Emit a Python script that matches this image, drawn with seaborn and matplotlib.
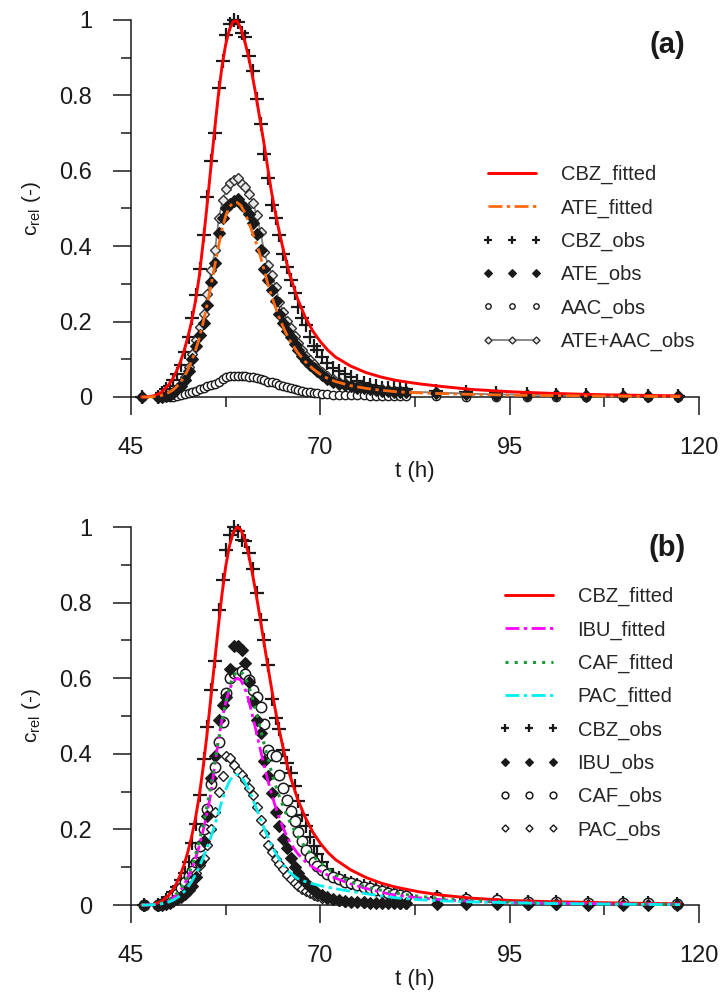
import matplotlib
matplotlib.use("Agg")
import matplotlib.pyplot as plt
import seaborn as sns

# ---------------- data : panel (a) ----------------
t_obs_a = [46.4, 48.6, 49.1, 49.6, 50.1, 50.6, 51.1, 51.6, 52.1, 52.6,
           53.1, 53.6, 54.1, 54.6, 55.1, 55.6, 56.1, 56.6, 57.1, 57.6,
           58.1, 58.6, 59.1, 59.6, 60.1, 60.6, 61.1, 61.6, 62.1, 62.6,
           63.1, 63.6, 64.1, 64.6, 65.1, 65.6, 66.1, 66.6, 67.1, 67.6,
           68.1, 68.6, 69.1, 69.6, 70.2, 70.9, 71.7, 72.5, 73.3, 74.1,
           74.9, 75.7, 76.5, 77.3, 78.1, 78.9, 79.7, 80.5, 81.3, 85.3,
           89.2, 93.2, 97.3, 101.1, 105.1, 110.0, 113.3, 117.2]
cbz_obs_a = [0.0, 0.0, 0.01, 0.02, 0.03, 0.045, 0.06, 0.085, 0.12, 0.16,
             0.21, 0.27, 0.34, 0.43, 0.53, 0.625, 0.70, 0.82, 0.89, 0.96,
             0.99, 1.0, 0.995, 0.965, 0.955, 0.905, 0.865, 0.79, 0.725, 0.645,
             0.58, 0.51, 0.475, 0.43, 0.38, 0.345, 0.31, 0.275, 0.24, 0.21,
             0.19, 0.16, 0.135, 0.125, 0.107, 0.09, 0.076, 0.068, 0.062, 0.052,
             0.043, 0.037, 0.031, 0.028, 0.025, 0.024, 0.023, 0.023, 0.022, 0.016,
             0.013, 0.01, 0.008, 0.006, 0.005, 0.004, 0.003, 0.002]
ate_obs_a = [0.0, 0.0, 0.0, 0.002, 0.005, 0.01, 0.02, 0.03, 0.045, 0.07,
             0.1, 0.135, 0.165, 0.195, 0.245, 0.305, 0.355, 0.435, 0.475, 0.5,
             0.512, 0.52, 0.524, 0.508, 0.502, 0.485, 0.462, 0.432, 0.39, 0.34,
             0.31, 0.285, 0.255, 0.22, 0.195, 0.175, 0.16, 0.14, 0.125, 0.108,
             0.096, 0.085, 0.076, 0.068, 0.058, 0.048, 0.041, 0.035, 0.031, 0.028,
             0.025, 0.023, 0.021, 0.019, 0.017, 0.015, 0.014, 0.013, 0.012, 0.01,
             0.008, 0.006, 0.005, 0.004, 0.003, 0.003, 0.002, 0.002]
aac_obs_a = [0.0, 0.0, 0.0, 0.0, 0.0, 0.001, 0.002, 0.004, 0.007, 0.01,
             0.013, 0.017, 0.02, 0.024, 0.028, 0.031, 0.035, 0.04, 0.047, 0.052,
             0.055, 0.056, 0.056, 0.056, 0.055, 0.054, 0.052, 0.05, 0.047, 0.044,
             0.041, 0.039, 0.036, 0.033, 0.03, 0.027, 0.024, 0.022, 0.019, 0.017,
             0.014, 0.012, 0.011, 0.01, 0.008, 0.007, 0.006, 0.005, 0.005, 0.004,
             0.004, 0.004, 0.003, 0.003, 0.003, 0.003, 0.003, 0.002, 0.002, 0.002,
             0.001, 0.001, 0.001, 0.001, 0.001, 0.0, 0.0, 0.0]
ate_aac_obs_a = [0.0, 0.0, 0.0, 0.002, 0.005, 0.011, 0.022, 0.034, 0.052, 0.08,
                 0.113, 0.152, 0.185, 0.219, 0.273, 0.336, 0.39, 0.475, 0.522, 0.552,
                 0.567, 0.576, 0.58, 0.564, 0.557, 0.539, 0.514, 0.482, 0.437, 0.384,
                 0.351, 0.324, 0.291, 0.253, 0.225, 0.202, 0.184, 0.162, 0.144, 0.125,
                 0.11, 0.097, 0.087, 0.078, 0.066, 0.055, 0.047, 0.04, 0.036, 0.032,
                 0.029, 0.027, 0.024, 0.022, 0.02, 0.018, 0.017, 0.015, 0.014, 0.012,
                 0.009, 0.007, 0.006, 0.005, 0.004, 0.003, 0.002, 0.002]

t_fit = [46.4, 47.0, 48.0, 49.0, 50.0, 50.5, 51.0, 51.5, 52.0, 52.5,
         53.0, 53.5, 54.0, 54.5, 55.0, 55.5, 56.0, 56.5, 57.0, 57.5,
         58.0, 58.5, 59.0, 59.5, 60.0, 60.5, 61.0, 61.5, 62.0, 62.5,
         63.0, 63.5, 64.0, 64.5, 65.0, 65.5, 66.0, 67.0, 68.0, 69.0,
         70.0, 71.0, 72.0, 74.0, 76.0, 78.0, 80.0, 83.0, 86.0, 90.0,
         95.0, 100.0, 105.0, 110.0, 117.5]
cbz_fit_a = [0.0, 0.0, 0.003, 0.012, 0.033, 0.048, 0.068, 0.092, 0.122, 0.158,
             0.2, 0.253, 0.318, 0.405, 0.5, 0.6, 0.7, 0.795, 0.875, 0.935,
             0.975, 0.996, 0.998, 0.978, 0.945, 0.905, 0.855, 0.80, 0.74, 0.68,
             0.615, 0.55, 0.495, 0.445, 0.40, 0.36, 0.322, 0.26, 0.212, 0.175,
             0.147, 0.124, 0.106, 0.082, 0.065, 0.053, 0.044, 0.035, 0.028, 0.02,
             0.014, 0.01, 0.007, 0.005, 0.003]
ate_fit_a = [0.0, 0.0, 0.001, 0.004, 0.012, 0.018, 0.027, 0.038, 0.053, 0.072,
             0.095, 0.123, 0.155, 0.195, 0.24, 0.29, 0.342, 0.395, 0.443, 0.48,
             0.505, 0.515, 0.516, 0.508, 0.49, 0.466, 0.438, 0.41, 0.38, 0.342,
             0.305, 0.272, 0.242, 0.214, 0.19, 0.168, 0.149, 0.118, 0.094, 0.075,
             0.06, 0.049, 0.041, 0.03, 0.023, 0.018, 0.014, 0.011, 0.009, 0.007,
             0.005, 0.004, 0.003, 0.002, 0.001]

# ---------------- data : panel (b) ----------------
t_obs_b = [46.7, 48.6, 49.1, 49.6, 50.1, 50.6, 51.1, 51.6, 52.1, 52.6,
           53.1, 53.6, 54.1, 54.6, 55.1, 55.6, 56.1, 56.6, 57.1, 57.6,
           58.1, 58.6, 59.1, 59.6, 60.1, 60.6, 61.1, 61.6, 62.1, 62.6,
           63.1, 63.6, 64.1, 64.6, 65.1, 65.6, 66.1, 66.6, 67.1, 67.6,
           68.1, 68.6, 69.1, 69.6, 70.2, 70.9, 71.7, 72.5, 73.3, 74.1,
           74.9, 75.7, 76.5, 77.3, 78.1, 78.9, 79.7, 80.5, 81.3, 85.4,
           89.3, 93.3, 97.4, 101.1, 105.3, 109.9, 113.2, 117.1]
cbz_obs_b = [0.0, 0.0, 0.005, 0.012, 0.022, 0.035, 0.048, 0.065, 0.085, 0.115,
             0.165, 0.215, 0.29, 0.385, 0.47, 0.57, 0.645, 0.78, 0.86, 0.94,
             0.979, 1.0, 0.99, 0.965, 0.962, 0.93, 0.89, 0.825, 0.755, 0.70,
             0.635, 0.545, 0.495, 0.465, 0.41, 0.375, 0.35, 0.315, 0.275, 0.238,
             0.21, 0.18, 0.155, 0.135, 0.115, 0.095, 0.079, 0.071, 0.064, 0.059,
             0.054, 0.05, 0.046, 0.042, 0.038, 0.034, 0.031, 0.028, 0.026, 0.02,
             0.016, 0.012, 0.009, 0.008, 0.006, 0.005, 0.004, 0.003]
ibu_obs_b = [0.0, 0.0, 0.0, 0.002, 0.005, 0.01, 0.015, 0.022, 0.03, 0.04,
             0.05, 0.075, 0.115, 0.17, 0.235, 0.335, 0.395, 0.49, 0.53, 0.55,
             0.625, 0.685, 0.685, 0.675, 0.64, 0.59, 0.54, 0.49, 0.455, 0.38,
             0.34, 0.295, 0.245, 0.21, 0.175, 0.15, 0.125, 0.1, 0.085, 0.07,
             0.058, 0.048, 0.04, 0.033, 0.026, 0.02, 0.015, 0.012, 0.01, 0.009,
             0.008, 0.007, 0.006, 0.006, 0.005, 0.005, 0.004, 0.004, 0.004, 0.003,
             0.003, 0.002, 0.002, 0.002, 0.001, 0.001, 0.001, 0.001]
caf_obs_b = [0.0, 0.0, 0.002, 0.006, 0.012, 0.02, 0.03, 0.045, 0.06, 0.078,
             0.09, 0.115, 0.155, 0.2, 0.255, 0.32, 0.365, 0.43, 0.485, 0.56,
             0.6, 0.613, 0.615, 0.618, 0.612, 0.595, 0.569, 0.551, 0.525, 0.478,
             0.41, 0.398, 0.395, 0.345, 0.31, 0.278, 0.25, 0.222, 0.194, 0.168,
             0.146, 0.128, 0.115, 0.102, 0.092, 0.083, 0.075, 0.068, 0.062, 0.057,
             0.052, 0.048, 0.044, 0.04, 0.036, 0.033, 0.03, 0.027, 0.025, 0.02,
             0.016, 0.012, 0.009, 0.008, 0.006, 0.005, 0.004, 0.003]
pac_obs_b = [0.0, 0.0, 0.001, 0.003, 0.006, 0.01, 0.016, 0.025, 0.035, 0.05,
             0.065, 0.085, 0.105, 0.125, 0.16, 0.2, 0.245, 0.3, 0.34, 0.395,
             0.39, 0.37, 0.355, 0.345, 0.33, 0.31, 0.292, 0.26, 0.225, 0.19,
             0.16, 0.14, 0.122, 0.108, 0.095, 0.08, 0.068, 0.058, 0.05, 0.043,
             0.037, 0.032, 0.027, 0.023, 0.019, 0.015, 0.012, 0.01, 0.009, 0.008,
             0.007, 0.006, 0.005, 0.005, 0.004, 0.004, 0.004, 0.003, 0.003, 0.002,
             0.002, 0.002, 0.001, 0.001, 0.001, 0.001, 0.0, 0.0]

cbz_fit_b = [0.0, 0.0, 0.002, 0.009, 0.026, 0.04, 0.057, 0.079, 0.106, 0.14,
             0.18, 0.228, 0.287, 0.36, 0.445, 0.54, 0.635, 0.73, 0.82, 0.895,
             0.95, 0.985, 1.0, 0.993, 0.968, 0.93, 0.88, 0.825, 0.765, 0.702,
             0.64, 0.58, 0.522, 0.47, 0.423, 0.38, 0.342, 0.28, 0.232, 0.193,
             0.163, 0.139, 0.12, 0.093, 0.073, 0.058, 0.047, 0.035, 0.026, 0.018,
             0.012, 0.009, 0.007, 0.005, 0.003]
ibu_fit_b = [0.0, 0.0, 0.001, 0.004, 0.011, 0.018, 0.026, 0.038, 0.053, 0.072,
             0.095, 0.122, 0.155, 0.195, 0.24, 0.29, 0.36, 0.43, 0.49, 0.535,
             0.57, 0.593, 0.6, 0.595, 0.575, 0.545, 0.505, 0.462, 0.418, 0.375,
             0.335, 0.298, 0.265, 0.235, 0.208, 0.185, 0.165, 0.136, 0.115, 0.1,
             0.089, 0.079, 0.071, 0.056, 0.044, 0.034, 0.026, 0.019, 0.014, 0.01,
             0.007, 0.005, 0.004, 0.003, 0.002]
caf_fit_b = [0.0, 0.0, 0.001, 0.005, 0.013, 0.02, 0.029, 0.041, 0.057, 0.077,
             0.102, 0.132, 0.168, 0.21, 0.258, 0.31, 0.37, 0.43, 0.485, 0.535,
             0.577, 0.605, 0.618, 0.618, 0.605, 0.582, 0.55, 0.513, 0.473, 0.432,
             0.393, 0.356, 0.322, 0.292, 0.265, 0.24, 0.219, 0.182, 0.153, 0.13,
             0.112, 0.096, 0.08, 0.061, 0.048, 0.039, 0.031, 0.023, 0.017, 0.012,
             0.008, 0.006, 0.004, 0.003, 0.002]
pac_fit_b = [0.0, 0.0, 0.001, 0.003, 0.008, 0.012, 0.018, 0.025, 0.035, 0.047,
             0.062, 0.08, 0.1, 0.124, 0.15, 0.177, 0.207, 0.24, 0.275, 0.305,
             0.328, 0.342, 0.345, 0.34, 0.326, 0.307, 0.284, 0.258, 0.232, 0.207,
             0.183, 0.161, 0.141, 0.124, 0.109, 0.096, 0.085, 0.07, 0.062, 0.056,
             0.051, 0.047, 0.043, 0.036, 0.03, 0.024, 0.019, 0.014, 0.011, 0.008,
             0.006, 0.004, 0.003, 0.002, 0.001]

x_major = [45, 70, 95, 120]
x_minor = [57.5, 82.5, 107.5]
y_major = [0, 0.2, 0.4, 0.6, 0.8, 1.0]
y_minor = [0.1, 0.3, 0.5, 0.7, 0.9]
y_labels = ["0", "0.2", "0.4", "0.6", "0.8", "1"]

# ---------------- style ----------------
sns.set_theme(style="ticks")
plt.rcParams["font.family"] = ["Liberation Sans", "DejaVu Sans"]
plt.rcParams["mathtext.fontset"] = "custom"
plt.rcParams["mathtext.rm"] = "Liberation Sans"
plt.rcParams["mathtext.it"] = "Liberation Sans"

TICK_FS = 17
LEG_FS = 14.5
LAB_FS = 15

fig = plt.figure(figsize=(7.23, 10.02), dpi=100)
ax_a = fig.add_axes([131 / 723, 1 - 397 / 1002, 568 / 723, 377 / 1002])
ax_b = fig.add_axes([131 / 723, 1 - 905 / 1002, 568 / 723, 378 / 1002])


def fitted(ax, t, y, label, color, ls, lw):
    sns.lineplot(x=t, y=y, ax=ax, color=color, linestyle=ls, linewidth=lw,
                 label=label, estimator=None, sort=False, zorder=4,
                 clip_on=False)


def observed(ax, t, y, label, marker, ms, mfc, mec, mew, ls="", lc="k", lw=1.2):
    sns.lineplot(x=t, y=y, ax=ax, color=lc, linestyle=ls, linewidth=lw,
                 marker=marker, markersize=ms, markerfacecolor=mfc,
                 markeredgecolor=mec, markeredgewidth=mew, label=label,
                 estimator=None, sort=False, zorder=3, clip_on=False)


DASHDOT = (0, (5, 1.6, 1.2, 1.6))
DOTTED = (0, (1, 2))

# panel (a)
observed(ax_a, t_obs_a, cbz_obs_a, "CBZ_obs", "+", 9.5, "k", "k", 1.6)
observed(ax_a, t_obs_a, aac_obs_a, "AAC_obs", "o", 6, "white", "k", 1.0)
observed(ax_a, t_obs_a, ate_aac_obs_a, "ATE+AAC_obs", "D", 5.5, "#e8e8e8", "#303030", 1.0,
         ls="-", lc="#808080", lw=1.3)
observed(ax_a, t_obs_a, ate_obs_a, "ATE_obs", "D", 6.2, "k", "k", 0.8)
fitted(ax_a, t_fit, cbz_fit_a, "CBZ_fitted", "#ff0000", "-", 2.1)
fitted(ax_a, t_fit, ate_fit_a, "ATE_fitted", "#ff6a10", DASHDOT, 2.0)

# panel (b)
observed(ax_b, t_obs_b, cbz_obs_b, "CBZ_obs", "+", 9.5, "k", "k", 1.6)
observed(ax_b, t_obs_b, caf_obs_b, "CAF_obs", "o", 7.5, "white", "k", 1.1)
observed(ax_b, t_obs_b, pac_obs_b, "PAC_obs", "D", 5.5, "white", "k", 1.0)
observed(ax_b, t_obs_b, ibu_obs_b, "IBU_obs", "D", 6.2, "k", "k", 0.8)
fitted(ax_b, t_fit, cbz_fit_b, "CBZ_fitted", "#ff0000", "-", 2.1)
fitted(ax_b, t_fit, ibu_fit_b, "IBU_fitted", "#ff00ff", DASHDOT, 2.0)
fitted(ax_b, t_fit, caf_fit_b, "CAF_fitted", "#1a9a3a", DOTTED, 2.2)
fitted(ax_b, t_fit, pac_fit_b, "PAC_fitted", "#00f0f0", DASHDOT, 2.0)

order_a = ["CBZ_fitted", "ATE_fitted", "CBZ_obs", "ATE_obs", "AAC_obs", "ATE+AAC_obs"]
order_b = ["CBZ_fitted", "IBU_fitted", "CAF_fitted", "PAC_fitted",
           "CBZ_obs", "IBU_obs", "CAF_obs", "PAC_obs"]

for ax, order, anchor, tag, tag_y in [
        (ax_a, order_a, (482 / 723, 1 - 165 / 1002), "(a)", 1 - 45 / 1002),
        (ax_b, order_b, (499 / 723, 1 - 587 / 1002), "(b)", 1 - 548 / 1002)]:
    ax.set_xlim(45, 120)
    ax.set_ylim(0, 1)
    ax.set_xticks(x_major)
    ax.set_xticks(x_minor, minor=True)
    ax.set_yticks(y_major)
    ax.set_yticklabels(y_labels)
    ax.set_yticks(y_minor, minor=True)
    for s in ["top", "right"]:
        ax.spines[s].set_visible(False)
    for s in ["left", "bottom"]:
        ax.spines[s].set_linewidth(1.1)
        ax.spines[s].set_color("k")
    ax.tick_params(which="major", direction="out", length=13, width=1.1,
                   color="k", labelsize=TICK_FS, labelcolor="k")
    ax.tick_params(axis="x", which="major", pad=16)
    ax.tick_params(axis="y", which="major", pad=15)
    ax.tick_params(which="minor", direction="out", length=7, width=1.1, color="k")
    ax.set_xlabel("t (h)", fontsize=LAB_FS + 1, color="k", labelpad=1)
    ax.set_ylabel(r"c$_{\mathrm{rel}}$ (-)", fontsize=LAB_FS, color="k", labelpad=12)
    ax.set_facecolor("white")
    h, l = ax.get_legend_handles_labels()
    lookup = dict(zip(l, h))
    ax.legend([lookup[k] for k in order], order, loc="upper left",
              bbox_to_anchor=anchor, bbox_transform=fig.transFigure,
              frameon=False, numpoints=3, handlelength=3.0, handletextpad=0.9,
              labelspacing=0.70, fontsize=LEG_FS, markerscale=0.65,
              borderpad=0, borderaxespad=0)
    fig.text(667 / 723, tag_y, tag, ha="center", va="center", fontsize=21,
             fontweight="bold", color="k")

fig.savefig("out.png", dpi=100, facecolor="white")
